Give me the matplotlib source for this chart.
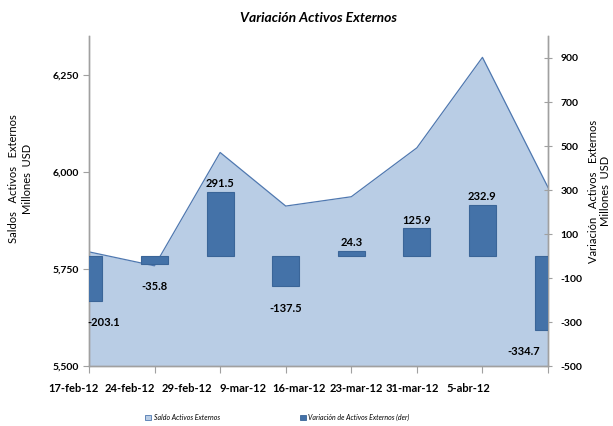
import matplotlib
matplotlib.use("Agg")
import matplotlib.pyplot as plt
import numpy as np
from matplotlib.patches import Patch

plt.rcParams['font.family'] = ['Lato', 'DejaVu Sans']

categories = ["17-feb-12", "24-feb-12", "29-feb-12", "9-mar-12",
              "16-mar-12", "23-mar-12", "31-mar-12", "5-abr-12"]
saldo = [5794, 5758, 6050, 5912, 5936, 6062, 6295, 5960]
variacion = [-203.1, -35.8, 291.5, -137.5, 24.3, 125.9, 232.9, -334.7]

fill_c = "#B9CDE5"
line_c = "#4F78B0"
bar_c = "#4472A8"
bar_e = "#3A6598"
spine_c = "#A0A0A0"

fig = plt.figure(figsize=(6.13, 4.26), dpi=100)
ax = fig.add_axes([0.1452, 0.1408, 0.7488, 0.7747])
x = np.arange(len(categories))

ax.fill_between(x, 5500, saldo, color=fill_c, zorder=1, lw=0)
ax.plot(x, saldo, color=line_c, lw=0.9, zorder=2)
ax.set_ylim(5500, 6350)
ax.set_yticks([5500, 5750, 6000, 6250])
ax.set_yticklabels(["5,500", "5,750", "6,000", "6,250"], fontsize=7.5, fontweight='bold')
ax.set_ylabel("Saldos   Activos   Externos\nMillones  USD", fontsize=8,
              linespacing=1.3)
ax.yaxis.set_label_coords(-0.122, 0.567)

ax2 = ax.twinx()
ax2.bar(x, variacion, width=0.41, color=bar_c, edgecolor=bar_e, lw=0.8, zorder=3)
ax2.set_ylim(-500, 1000)
ax2.set_yticks(np.arange(-500, 1000, 200))
ax2.set_yticklabels([str(v) for v in np.arange(-500, 1000, 200)], fontsize=7.5,
                    fontweight='bold')
ax2.set_ylabel("Variación   Activos   Externos\nMillones  USD", fontsize=8,
               linespacing=1.15)
ax2.yaxis.set_label_coords(1.087, 0.53)
ax2.tick_params(axis='y', direction='inout', length=6, color=spine_c, pad=6)

n = len(categories)
for i, v in enumerate(variacion):
    ha = 'center'
    dx = 0
    if i == 0:
        ha = 'left'
        dx = -1
    elif i == n - 1:
        ha = 'right'
        dx = -6
    if v >= 0:
        ax2.annotate(f"{v:.1f}", (x[i], v), xytext=(dx, 2), textcoords='offset points',
                     ha=ha, va='bottom', fontsize=8, fontweight='bold', zorder=5,
                     annotation_clip=False)
    else:
        ax2.annotate(f"{v:.1f}", (x[i], v), xytext=(dx, -12), textcoords='offset points',
                     ha=ha, va='top', fontsize=8, fontweight='bold', zorder=5,
                     annotation_clip=False)

# category tick marks at points, labels spaced as in reference
ax.set_xticks(x)
ax.set_xticklabels([])
ax.tick_params(axis='x', direction='out', length=5, color=spine_c)
label_pos = x * 0.86 - 0.23
for i, lbl in enumerate(categories):
    ax.annotate(lbl, (label_pos[i], 0), xycoords=ax.get_xaxis_transform(),
                xytext=(0, -12), textcoords='offset points', ha='center', va='top',
                fontsize=8, fontweight='bold', annotation_clip=False)
ax.tick_params(axis='y', direction='out', length=4, color=spine_c)
ax.set_xlim(0, len(categories) - 1)
ax2.set_xlim(0, len(categories) - 1)

for a in (ax, ax2):
    a.spines['top'].set_visible(False)
    for s in ('left', 'right', 'bottom'):
        a.spines[s].set_color(spine_c)
        a.spines[s].set_linewidth(1.0)

ax.set_title("Variación Activos Externos", fontsize=10, fontweight='bold',
             style='italic', pad=10)

handles = [Patch(facecolor=fill_c, edgecolor=line_c, lw=0.6),
           Patch(facecolor=bar_c, edgecolor=bar_e, lw=0.6)]
fig.legend(handles, ["Saldo Activos Externos", "Variación de Activos Externos (der)"],
           loc='lower center', bbox_to_anchor=(0.452, -0.003), ncol=2, frameon=False,
           prop={'size': 5, 'style': 'italic'}, handlelength=0.9, handleheight=0.9,
           handletextpad=0.3, columnspacing=11.5)

fig.savefig("out.png", dpi=100)
